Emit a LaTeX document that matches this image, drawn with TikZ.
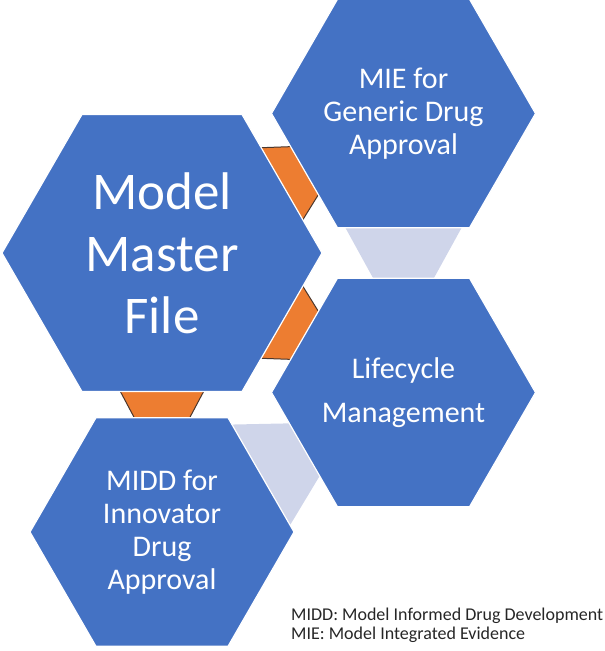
\documentclass[tikz,border=0pt]{standalone}
\usepackage{fontspec}
\setmainfont{Carlito}
\usepackage{xcolor}
\usetikzlibrary{shapes.geometric, calc}

\definecolor{hexblue}{RGB}{68,114,196}
\definecolor{linkorange}{RGB}{237,125,49}
\definecolor{linklav}{RGB}{207,213,234}
\definecolor{linkedge}{RGB}{75,55,45}

\pgfdeclarelayer{background}
\pgfsetlayers{background,main}

\tikzset{
    hexbig/.style={regular polygon, regular polygon sides=6, fill=hexblue, draw=white,
        line width=1.2pt, minimum size=320pt, inner sep=0pt, outer sep=0pt},
    hexsmall/.style={hexbig, minimum size=264pt},
    hextext/.style={text=white, align=center, inner sep=0pt, font=\fontsize{30}{33}\selectfont},
    linkend/.style={draw=linkedge, line width=1pt},
}

\begin{document}
\begin{tikzpicture}[x=1pt, y=-1pt]
    \useasboundingbox (0,0) rectangle (605,651);

    % hexagons
    \node[hexbig] (mmf) at (162,253) {};
    \node[hexsmall] (mie) at (403.5,113.5) {};
    \node[hexsmall] (life) at (403.5,392.5) {};
    \node[hexsmall] (midd) at (162,532) {};

    % labels
    \node[hextext, font=\fontsize{53}{62}\selectfont] (mmf-text) at (mmf.center) {Model\\Master\\File};
    \node[hextext] (mie-text) at (mie.center) {MIE for\\Generic Drug\\Approval};
    \node[hextext] (life-text) at (life.center) {Lifecycle\\[11pt]Management};
    \node[hextext] (midd-text) at (midd.center) {MIDD for\\Innovator\\Drug\\Approval};

    % links between the hexagons
    \begin{pgfonlayer}{background}
        \foreach \src/\sa/\sb/\dst/\da/\db in {mmf/60/0/mie/180/240, mmf/0/300/life/120/180, mmf/240/300/midd/120/60} {
            \fill[linkorange] ($(\src.\sa)!0.24!(\src.\sb)$) coordinate (p1)
                -- ($(\src.\sa)!0.76!(\src.\sb)$) coordinate (p2)
                -- ($(\dst.\da)!0.71!(\dst.\db)$) coordinate (q2)
                -- ($(\dst.\da)!0.29!(\dst.\db)$) coordinate (q1) -- cycle;
            \draw[linkend] (p1) -- (q1) (p2) -- (q2);
        }
        \foreach \src/\sa/\sb/\dst/\da/\db in {mie/240/300/life/120/60, midd/60/0/life/180/240} {
            \fill[linklav] ($(\src.\sa)!0.06!(\src.\sb)$) -- ($(\src.\sa)!0.94!(\src.\sb)$)
                -- ($(\dst.\da)!0.73!(\dst.\db)$) -- ($(\dst.\da)!0.27!(\dst.\db)$) -- cycle;
        }
    \end{pgfonlayer}

    % legend
    \node[anchor=north west, align=left, inner sep=0pt, text=black!85,
        font=\fontsize{18}{18.5}\selectfont] (notes) at (291,608)
        {MIDD: Model Informed Drug Development\\MIE: Model Integrated Evidence};
\end{tikzpicture}
\end{document}
